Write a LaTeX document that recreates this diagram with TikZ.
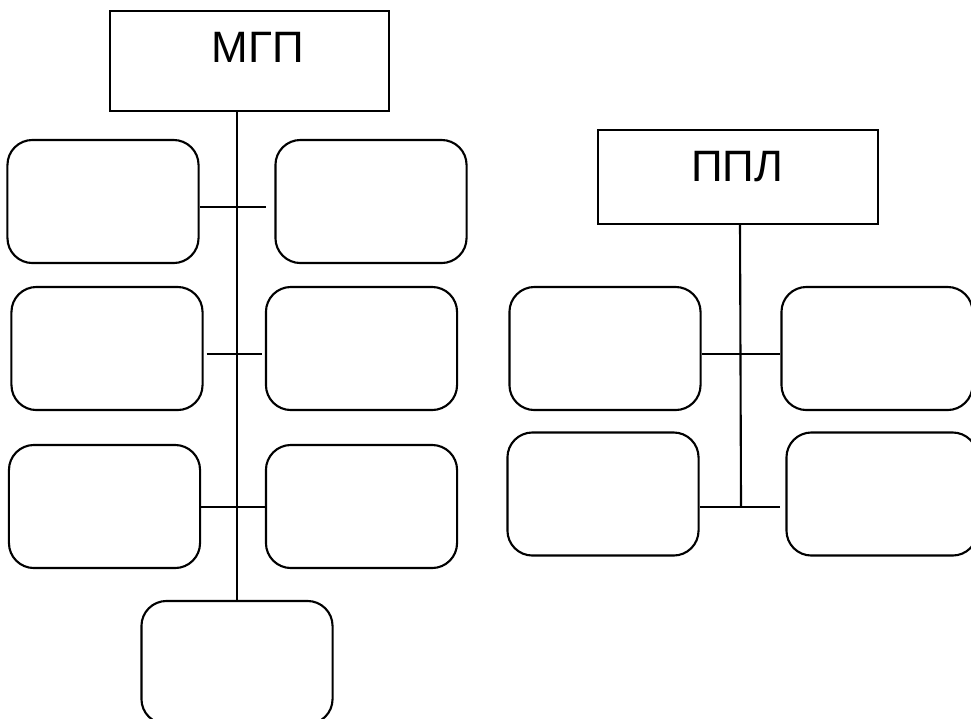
\documentclass[tikz,border=0pt]{standalone}
\usepackage{fontspec}
\setmainfont{Liberation Sans}
\begin{document}
\begin{tikzpicture}[x=0.01cm, y=-0.01cm, line width=0.6pt,
    cell/.style={draw, rounded corners=0.25cm, minimum width=1.91cm, minimum height=1.23cm, inner sep=0pt},
    head/.style={draw, inner sep=0pt},
    title/.style={inner sep=0pt, font=\fontsize{12.5}{15}\selectfont}]
        \useasboundingbox (0,0) rectangle (971,718);

        % left tree
        \node[head, minimum width=2.79cm, minimum height=1cm] (mgp) at (249.5,61) {};
        \node[title] (mgpt) at (258,47) {МГП};
        \node[cell] (l1) at (103,201.5) {};
        \node[cell] (r1) at (371,201.5) {};
        \node[cell] (l2) at (107,348.5) {};
        \node[cell] (r2) at (361.5,348.5) {};
        \node[cell] (l3) at (104.5,506.5) {};
        \node[cell] (r3) at (361.5,506.5) {};
        \node[cell] (b) at (237,662.5) {};

        \coordinate (j1) at (236,207);
        \coordinate (j2) at (236,354);
        \coordinate (j3) at (236,507);

        \draw (b.north |- mgp.south) -- (b.north);
        \draw (l1.east |- j1) -- ([xshift=-0.08cm]r1.west |- j1);
        \draw ([xshift=0.03cm]l2.east |- j2) -- ([xshift=-0.03cm]r2.west |- j2);
        \draw (l3.east |- j3) -- (r3.west |- j3);

        % right tree
        \node[head, minimum width=2.8cm, minimum height=0.94cm] (ppl) at (738,177) {};
        \node[title] (pplt) at (737,166.5) {ППЛ};
        \node[cell] (p1) at (605,348.5) {};
        \node[cell] (q1) at (877,348.5) {};
        \node[cell] (p2) at (603,494) {};
        \node[cell] (q2) at (882,494) {};

        \coordinate (k1) at (740,354);
        \coordinate (k2) at (741,507);

        \draw (ppl.south -| k1) -- (k2);
        \draw (p1.east |- k1) -- (q1.west |- k1);
        \draw (p2.east |- k2) -- ([xshift=-0.05cm]q2.west |- k2);

    \end{tikzpicture}
\end{document}
